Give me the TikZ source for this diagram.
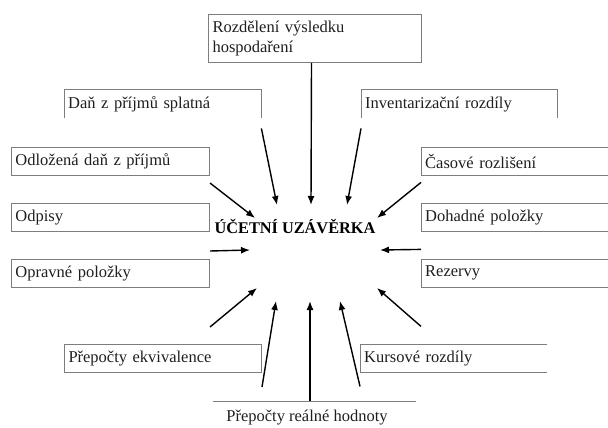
\documentclass[tikz,border=0pt]{standalone}
\usepackage{fontspec}
\setmainfont{Liberation Serif}
\usetikzlibrary{positioning,arrows.meta}
\definecolor{boxgray}{RGB}{125,125,125}
\definecolor{inkgray}{RGB}{30,30,30}
\tikzset{
  txt/.style={text=inkgray, inner sep=4pt, anchor=north west, align=left,
    minimum height=28pt, font=\fontsize{16.5}{20}\selectfont},
  box/.style={txt, draw=boxgray, line width=1pt},
  boxline/.style={draw=boxgray, line width=1pt},
  arr/.style={->, line width=1.4pt}
}
\begin{document}
\begin{tikzpicture}[x=1pt,y=-1pt,>={Latex[length=9pt,width=7pt]}]
            \useasboundingbox (0,0) rectangle (608,428);

            % boxes
            \node[box, text width=205, minimum height=48pt] (rozdeleni) at (208,14) {Rozdělení výsledku\\hospodaření};
            \node[txt, text width=189] (splatna) at (64,90) {Daň z příjmů splatná};
            \node[txt, text width=188] (inventar) at (361,90) {Inventarizační rozdíly};
            \node[box, text width=190] (odlozena) at (11,147) {Odložená daň z příjmů};
            \node[box, text width=190] (odpisy) at (11,203) {Odpisy};
            \node[box, text width=190] (opravne) at (11,259) {Opravné položky};
            \node[txt, text width=185] (cas) at (421,147) {Časové rozlišení};
            \node[txt, text width=185] (dohadne) at (421,203) {Dohadné položky};
            \node[txt, text width=185] (rezervy) at (421,259) {Rezervy};
            \node[box, text width=189] (ekviv) at (64,344) {Přepočty ekvivalence};
            \node[txt, text width=179] (kurs) at (360,344) {Kursové rozdíly};
            \node[text=inkgray, font=\fontsize{16.5}{20}\selectfont] (realne) at (307,418) {Přepočty reálné hodnoty};
            \node[anchor=base, font=\fontsize{16.3}{20}\selectfont\bfseries] (uzaverka) at (295,233) {ÚČETNÍ UZÁVĚRKA};

            \draw[boxline] (splatna.south west) -- (splatna.north west) -- (splatna.north east) -- (splatna.south east);
            \draw[boxline] (inventar.south west) -- (inventar.north west) -- (inventar.north east) -- (inventar.south east);
            \foreach \b in {cas,dohadne,rezervy,kurs}
                \draw[boxline] (\b.north east) -- (\b.north west) -- (\b.south west) -- (\b.south east);
            \draw[boxline] (213,401) coordinate (r1) -- (416,401) coordinate (r2);

            % arrow tips
            \coordinate (t1) at (311,205);
            \coordinate (t2) at (277,205);
            \coordinate (t3) at (347,205);
            \coordinate (t4) at (255,218);
            \coordinate (t5) at (377,218);
            \coordinate (t6) at (250,250);
            \coordinate (t7) at (380,250);
            \coordinate (t8) at (257,288);
            \coordinate (t9) at (377,288);
            \coordinate (t10) at (276,301);
            \coordinate (t11) at (310,301);
            \coordinate (t12) at (340,301);

            \draw[arr] ([xshift=-3.5pt]rozdeleni.south) -- (t1);
            \draw[arr] ([yshift=-10pt]splatna.south east) -- (t2);
            \draw[arr] ([yshift=-10pt]inventar.south west) -- (t3);
            \draw[arr] ([yshift=-7pt]odlozena.south east) -- (t4);
            \draw[arr] ([yshift=-7pt]cas.south west) -- (t5);
            \draw[arr] ([yshift=-19pt]odpisy.south east) -- (t6);
            \draw[arr] ([yshift=-18pt]dohadne.south west) -- (t7);
            \draw[arr] ([yshift=-39pt]opravne.south east) -- (t8);
            \draw[arr] ([yshift=-39pt]rezervy.south west) -- (t9);
            \draw[arr] ([yshift=-14pt]ekviv.south east) -- (t10);
            \draw[arr] (r1 -| t11) -- (t11);
            \draw[arr] ([yshift=-14pt]kurs.south west) -- (t12);
        \end{tikzpicture}
\end{document}
